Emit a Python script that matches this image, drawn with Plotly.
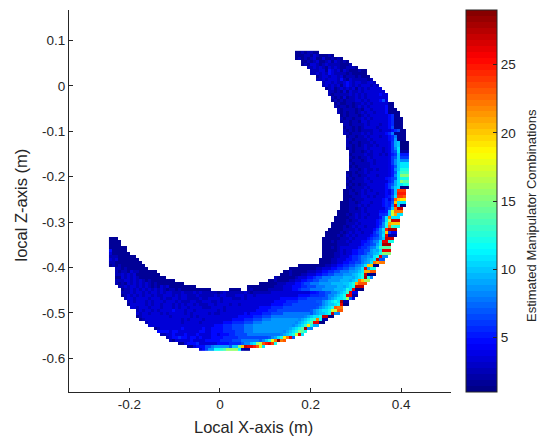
import numpy as np
import plotly.graph_objects as go

# Each segment: grid row, first col, last col, values from the left, values from the right.
# Cell values are base-36 characters (1..9, a=10 ... t=29); spaces only aid reading.
segments = [
(0,62,69,"11212211",""),
(1,62,74,"1112213211121",""),
(2,62,77,"1212123113112121",""),
(3,64,79,"1121231123132121",""),
(4,64,80,"12133212322221112",""),
(5,66,82,"22323213232112221",""),
(6,67,85,"2223314323132111211",""),
(7,67,85,"2232324322221211111",""),
(8,69,86,"123323323122212111",""),
(9,69,87,"2232333242132222212",""),
(10,71,88,"233232234323322332",""),
(11,71,89,"2323231343232333232",""),
(12,72,90,"1231232323132323333",""),
(13,73,91,"2212131322323333333",""),
(14,73,92,"21222223232323333433",""),
(15,74,92,"2121312232323333333",""),
(16,74,92,"1212122233232333463",""),
(17,75,94,"12112212232323333311",""),
(18,75,94,"21221212323233333411",""),
(19,76,95,"21222212133233334111",""),
(20,76,96,"212122123233233341111",""),
(21,77,96,"12122212323333334511",""),
(22,77,97,"212212232323333345111",""),
(23,77,97,"122122133233333345111",""),
(24,78,97,"22122223233323345111",""),
(25,78,97,"12212123333233346111",""),
(26,78,98,"212121222233233345611",""),
(27,78,98,"221222323233334571111"[:21],""),
(28,79,98,"12212232333233457111",""),
(29,79,98,"22122223233333458111",""),
(30,79,99,"21221222323333","469a111"),
(31,79,99,"22121232232333","469a111"),
(32,79,99,"12122232333323","468b111"),
(33,80,99,"2122123233323","467b222"),
(34,80,99,"1222232233232","456a555"),
(35,80,99,"2121223233333","467a666"),
(36,80,99,"1222123323333","468a888"),
(37,80,99,"2122222323333","468abbb"),
(38,80,99,"1212222333333","457abbb"),
(39,80,99,"2221232232333","458accc"),
(40,79,99,"11212232333333","457bddd"),
(41,79,99,"21221223332333","458bfff"),
(42,79,99,"12122232333334","567bccc"),
(43,79,99,"21222233233333","569bfee"),
(44,79,99,"12121223333334","679bbcc"),
(45,79,99,"21222232333334","68ab111"),
(46,78,98,"112122323233334","46aooo"),
(47,78,98,"112212323332334","46appp"),
(48,78,98,"111222332323334","57boon"),
(49,78,98,"112122233333345","46nkjj"),
(50,77,98,"1112212333233345","57kbbb"),
(51,77,98,"1112223232333345","58qb11"),
(52,77,97,"11122123233333","56amrr"),
(53,76,97,"111122223233334","5ahmmm"),
(54,76,97,"111212323323335","6ahlbb"),
(55,75,96,"1111122323233334","7bmbbb"),
(56,75,96,"1111212233333345","7bgrrr"),
(57,74,96,"11111222323333345","8clkkk"),
(58,74,96,"11112123233233346","8cmdcc"),
(59,73,95,"1111122223233334","68bpsss"),
(60,72,95,"11111212323323335","78ak644"),
(61,72,95,"11112123232333345","68bq222"),
(62,71,94,"111111222323333456","78arrr"),
(63,71,94,"111212223233344567","8bqqcc"),
(64,71,93,"11111222233334556","79bsss"),
(65,71,93,"11121233333345567","8adeee"),
(66,71,93,"111112323344556689","9bqqq"),
(67,71,93,"111122323344556789","acfff"),
(68,71,92,"1111223334556778","8bcq88"),
(69,70,91,"11112233344556778","89abr77"),
(70,70,91,"111122334455667889","9bmlmm"),
(71,63,89,"1111111112233445566778","89bkk11"),
(72,60,88,"1111111112233344556677889","9bq9cc"),
(73,58,88,"112111112223344556677788","9abllnn"),
(74,57,88,"11121112233344556677788899","abcr111"),
(75,55,87,"211111123334456677788889","9abcsc8"),
(76,53,86,"1121111223344556677788889","9abmkgg"),
(77,50,85,"1111112223334456677788889","aabclnnn"),
(78,46,84,"1111111112223334445566677788889","9abcrrr"),
(79,46,84,"1211111222223334456667777888899","acbq111"),
(62,0,2,"111",""),
(63,0,3,"1111",""),
(64,0,3,"1111",""),
(65,0,5,"111111",""),
(66,0,5,"411111",""),
(67,0,6,"3111111",""),
(68,0,8,"222111111",""),
(69,0,9,"3231111111",""),
(70,0,10,"22111111111",""),
(71,0,11,"121211111111",""),
(72,2,12,"22121111111",""),
(73,2,15,"21221322111111",""),
(74,2,16,"223232311111111",""),
(75,2,18,"11323232111111111",""),
(76,2,21,"22233232321211111111",""),
(77,2,24,"21213232323212111111111",""),
(78,3,28,"22323323232121323111111111",""),
(79,4,33,"12232323232323212212111111111",""),
(79,40,43,"1111",""),
(80,4,82,"2223233232 3323233222 3222323222 2212322222 2321222222 3333333333 3334","56677889abdq44"),
(81,4,82,"1232323233 2322333232 3322232222 2323322233 3233233333 3333333334 4445","667889abcqq22"),
(82,5,81,"2332333323 3323223323 3222232233 3323332223 2333333333 3344444455 5666","7789abbcg74"),
(83,6,79,"2323332323 3323332322 2332233322 3233333333 3333333334 4445555666","7789abcbs22"),
(84,6,79,"1333332323 3233323232 3323222332 3333233233 3333333344 4455566666","789aabcq11"),
(85,7,77,"3323332333 2333232332 3333222333 3233333333 3334444555 566666","789abcnmm"),
(86,9,77,"2323323233 3343332332 3333333232 3333333333 4444555666 666","789abbchhnn"),
(87,9,76,"3233233323 2333332323 3333232233 3333334344 4455566667","789aabcr88"),
(88,9,74,"1233333333 3233333323 2333333333 3333444445 5566677","89abbcrr11"),
(89,10,72,"1233333333 3333232333 3233333333 3444455566 67778","89abcdmc22"),
(90,12,71,"2333333333 3323333323 3333334445 5556667778","89abceqq11"),
(91,13,69,"3333333333 3333333333 3344455566 667778","89abdjc99"),
(92,15,67,"1233333334 3333334334 4445556666 77788","9abces88"),
(93,16,65,"4444344333 3333443344 4455556667 778","89abcfec"),
(94,17,64,"2233433343 3343333443 4445566667 7","89abchqb"),
(95,19,61,"2344544344 3433344445 5555666","789bcjmq7"),
(96,20,58,"2133333433 3344444555 56667","78acimtmn"),
(97,23,55,"1134445333 3334444555","788abfhnpqoc"),
(98,26,51,"1134446678 88","7aafkrqqpnib"),
(99,30,46,"34688bbcdffffb211",""),
]

x_ticks = [-0.2, 0, 0.2, 0.4]
x_tick_labels = ["-0.2", "0", "0.2", "0.4"]
y_ticks = [0.1, 0, -0.1, -0.2, -0.3, -0.4, -0.5, -0.6]
y_tick_labels = ["0.1", "0", "-0.1", "-0.2", "-0.3", "-0.4", "-0.5", "-0.6"]
bar_ticks = [5, 10, 15, 20, 25]

n_cols, n_rows = 100, 100
x_cells = -0.2415 + 0.006615 * np.arange(n_cols)
y_cells = 0.0738 - 0.006608 * np.arange(n_rows)

# Calibration of the read values: the body cells were read half a step too dark.
body_shift = 0.6

z = np.full((n_rows, n_cols), np.nan)
for row, first, last, left, right in segments:
    width = last - first + 1
    cells = [int(ch, 36) + body_shift for ch in left.replace(" ", "")][:width]
    tail = [int(ch, 36) for ch in right][-width:] if right else []
    filler = cells[-1] if cells else tail[0]
    cells = cells + [filler] * (width - len(cells))
    if tail:
        cells[width - len(tail):] = tail
    z[row, first:last + 1] = cells


def jet(t):
    r = np.clip(min(4 * t - 1.5, -4 * t + 4.5), 0, 1)
    g = np.clip(min(4 * t - 0.5, -4 * t + 3.5), 0, 1)
    b = np.clip(min(4 * t + 0.5, -4 * t + 2.5), 0, 1)
    return f"rgb({int(r*255)},{int(g*255)},{int(b*255)})"


levels = 64
colorscale = []
for i in range(levels):
    c = jet((i + 0.5) / levels)
    colorscale += [[i / levels, c], [(i + 1) / levels, c]]

INK = "#262626"
FONT = "Liberation Sans"

fig = go.Figure(go.Heatmap(
    x=x_cells, y=y_cells, z=z.tolist(),
    zmin=1, zmax=29, colorscale=colorscale, hoverongaps=False,
    colorbar=dict(
        x=1.039, xanchor="left", xpad=0, y=0.5, yanchor="middle", len=1, ypad=0,
        thickness=31, outlinecolor=INK, outlinewidth=1,
        ticks="inside", ticklen=4, tickcolor=INK, tickwidth=1,
        tickvals=bar_ticks, tickfont=dict(family=FONT, size=13.5, color=INK),
    ),
))

title_font = dict(family=FONT, size=16.5, color=INK)
fig.update_layout(
    width=542, height=438, autosize=False,
    margin=dict(l=69, r=91, t=10, b=46),
    paper_bgcolor="white", plot_bgcolor="white",
    font=dict(family=FONT, color=INK),
    xaxis=dict(range=[-0.333, 0.51], tickvals=x_ticks, ticktext=x_tick_labels,
               ticks="inside", ticklen=4, tickcolor=INK, showline=True, linecolor=INK,
               linewidth=1, showgrid=False, zeroline=False,
               tickfont=dict(family=FONT, size=13.5, color=INK)),
    yaxis=dict(range=[-0.674, 0.167], tickvals=y_ticks, ticktext=y_tick_labels,
               ticks="inside", ticklen=4, tickcolor=INK, showline=True, linecolor=INK,
               linewidth=1, showgrid=False, zeroline=False,
               tickfont=dict(family=FONT, size=13.5, color=INK)),
    annotations=[
        dict(text="Local X-axis (m)", xref="paper", yref="paper", showarrow=False,
             x=(253 - 69) / 382, y=(392 - 427) / 382, xanchor="center", yanchor="middle",
             font=title_font),
        dict(text="local Z-axis (m)", xref="paper", yref="paper", showarrow=False,
             x=(21 - 69) / 382, y=(392 - 205.5) / 382, xanchor="center", yanchor="middle",
             textangle=-90, font=title_font),
        dict(text="Estimated Manipulator Combinations", xref="paper", yref="paper", showarrow=False,
             x=(532 - 69) / 382, y=(392 - 216) / 382, xanchor="center", yanchor="middle",
             textangle=-90, font=dict(family=FONT, size=13, color=INK)),
    ],
)

fig.write_html("out.html", config={"displayModeBar": False},
               post_script="document.body.style.margin='0';document.body.style.overflow='hidden';")
